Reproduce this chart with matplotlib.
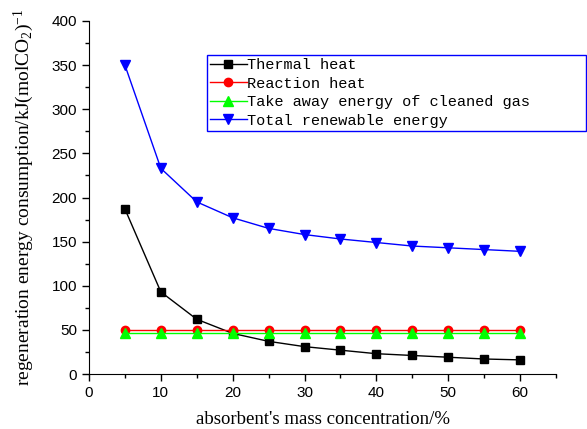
import matplotlib
matplotlib.use('Agg')
import matplotlib.pyplot as plt
from matplotlib.ticker import MultipleLocator

# data
concentration = [5, 10, 15, 20, 25, 30, 35, 40, 45, 50, 55, 60]
thermal_heat = [187, 93, 62, 46, 37, 31, 27, 23, 21, 19, 17, 16]
reaction_heat = [50, 50, 50, 50, 50, 50, 50, 50, 50, 50, 50, 50]
cleaned_gas_energy = [47, 47, 47, 47, 47, 47, 47, 47, 47, 47, 47, 47]
total_energy = [350, 233, 195, 177, 165, 158, 153, 149, 145, 143, 141, 139]

labels = ['Thermal heat', 'Reaction heat',
          'Take away energy of cleaned gas', 'Total renewable energy']

plt.rcParams['mathtext.fontset'] = 'custom'
plt.rcParams['mathtext.rm'] = 'Liberation Serif'
plt.rcParams['mathtext.it'] = 'Liberation Serif:italic'

fig = plt.figure(figsize=(5.87, 4.29), dpi=100)
ax = fig.add_axes([89 / 587, 1 - 374 / 429, (556 - 89) / 587, (374 - 21) / 429])

ax.plot(concentration, thermal_heat, color='black', marker='s', markersize=5.5, lw=1,
        label=labels[0])
ax.plot(concentration, reaction_heat, color='red', marker='o', markersize=6, lw=1,
        label=labels[1])
ax.plot(concentration, cleaned_gas_energy, color='#00ff00', marker='^', markersize=6.5, lw=1,
        label=labels[2])
ax.plot(concentration, total_energy, color='blue', marker='v', markersize=6.5, lw=1,
        label=labels[3])

ax.set_xlim(0, 65)
ax.set_ylim(0, 400)
ax.xaxis.set_major_locator(MultipleLocator(10))
ax.xaxis.set_minor_locator(MultipleLocator(5))
ax.yaxis.set_major_locator(MultipleLocator(50))
ax.yaxis.set_minor_locator(MultipleLocator(25))
ax.spines['top'].set_visible(False)
ax.spines['right'].set_visible(False)
ax.tick_params(which='major', direction='out', length=5, width=1)
ax.tick_params(which='minor', direction='out', length=3, width=1)
for lab in ax.get_xticklabels() + ax.get_yticklabels():
    lab.set_fontfamily('Liberation Sans')
    lab.set_fontsize(11)

ax.set_xlabel("absorbent's mass concentration/%", fontfamily='Liberation Serif',
              fontsize=13.5, labelpad=8)
ax.set_ylabel('regeneration energy consumption/kJ(molCO$_2$)$^{-1}$',
              fontfamily='Liberation Serif', fontsize=14, labelpad=11)

leg = ax.legend(loc='upper left', mode='expand',
                bbox_to_anchor=(207 / 587, 1 - 136 / 429, (586 - 207) / 587, 81 / 429),
                bbox_transform=fig.transFigure, borderaxespad=0,
                prop={'family': 'Liberation Mono', 'size': 11},
                fancybox=False, framealpha=1, edgecolor='blue',
                handlelength=2.4, handletextpad=0.0, labelspacing=0.3,
                borderpad=0.2)
leg.get_frame().set_linewidth(1)

fig.savefig('out.png', dpi=100)
